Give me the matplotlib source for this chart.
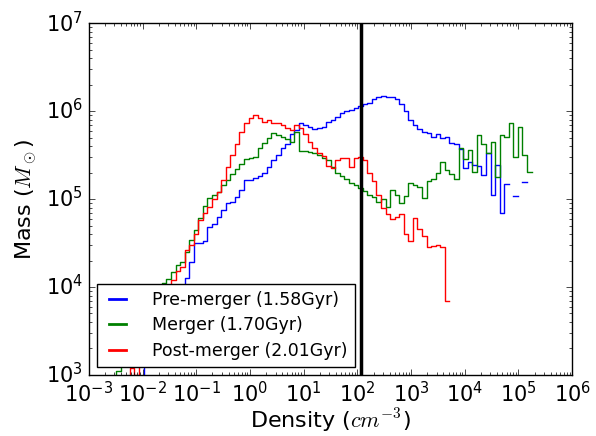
import matplotlib
matplotlib.use('Agg')
import matplotlib.pyplot as plt
import numpy as np

plt.style.use('classic')

# log-spaced bins: left edge of bin k is 10**(-3 + k*bin_dex)
bin_dex = 0.085
nan = np.nan

# log10(mass / Msun) per bin
pre_start = 11
pre_merger = [2.8, 3.1, 3.25, 3.35, 3.45, 3.55, 3.65, 3.8, 3.85, 3.95,
              4.1, 4.28, 4.5, 4.5, 4.52, 4.68, 4.72, 4.80, 4.88, 4.95,
              4.97, 5.02, 5.10, 5.22, 5.22, 5.24, 5.26, 5.30, 5.36, 5.44,
              5.50, 5.58, 5.62, 5.74, 5.78, 5.86, 5.84, 5.82, 5.80, 5.81,
              5.82, 5.88, 5.90, 5.93, 5.98, 6.00, 6.01, 6.04, 6.06, 6.08,
              6.09, 6.14, 6.16, 6.17, 6.16, 6.16, 6.14, 6.08, 6.00, 5.90,
              5.84, 5.80, 5.76, 5.75, 5.70, 5.74, 5.69, 5.71, 5.64, 5.63,
              5.57, 5.35, 5.42, 5.39, 5.37, 5.27, 5.52, 5.05, 5.39, 4.84,
              5.17, nan, 5.03, nan, 5.19]

mer_start = 5
merger = [2.9, 3.05, 3.1, 3.25, 3.35, 3.5, 3.6, 3.7, 3.8, 3.9,
          3.95, 4.05, 4.09, 4.17, 4.25, 4.28, 4.40, 4.53, 4.65, 4.78,
          4.92, 5.01, 5.05, 5.08, 5.16, 5.22, 5.28, 5.34, 5.40, 5.45,
          5.47, 5.48, 5.58, 5.64, 5.69, 5.75, 5.73, 5.70, 5.68, 5.65,
          5.76, 5.55, 5.55, 5.53, 5.52, 5.50, 5.47, 5.44, 5.36, 5.30,
          5.26, 5.23, 5.18, 5.16, 5.12, 5.09, 5.05, 5.02, 4.97, 5.00,
          4.91, 5.10, 5.05, 4.95, 5.03, 5.18, 5.16, 5.14, 5.01, 5.20,
          5.23, 5.30, 5.42, 5.33, 5.28, 5.23, 5.58, 5.46, 5.56, 5.31,
          5.73, 5.62, 5.52, 5.65, 5.25, 5.73, 5.70, 5.86, 5.48, 5.82,
          5.50, 5.31]

post_start = 8
post_merger = [2.85, 3.08, 3.0, 3.25, 3.4, 3.5, 3.62, 3.75, 3.85, 3.98,
               4.08, 4.18, 4.23, 4.42, 4.48, 4.60, 4.76, 4.84, 4.91, 5.00,
               5.08, 5.22, 5.36, 5.50, 5.62, 5.76, 5.86, 5.92, 5.95, 5.92,
               5.88, 5.90, 5.87, 5.86, 5.84, 5.81, 5.78, 5.84, 5.81, 5.74,
               5.65, 5.58, 5.52, 5.49, 5.37, 5.35, 5.44, 5.47, 5.47, 5.36,
               5.47, 5.48, 5.44, 5.30, 5.20, 5.05, 4.90, 4.83, 4.77, 4.80,
               4.83, 4.60, 4.52, 4.78, 4.66, 4.58, 4.45, 4.47, 4.48, 4.45,
               3.84]

labels = ['Pre-merger (1.58Gyr)', 'Merger (1.70Gyr)', 'Post-merger (2.01Gyr)']
colors = ['b', 'g', 'r']
threshold = 115.0  # density cut, cm^-3

fig = plt.figure(figsize=(5.96, 4.36), dpi=100, facecolor='white')
ax = fig.add_axes([0.149, 0.14, 0.811, 0.807])

series = [(pre_start, pre_merger), (mer_start, merger), (post_start, post_merger)]
for (start, vals), lab, c in zip(series, labels, colors):
    vals = np.array(vals)
    k = np.arange(start, start + len(vals) + 1)
    edges = 10 ** (-3 + k * bin_dex)
    mass = 10 ** np.append(vals, vals[-1])
    ax.plot(edges, mass, drawstyle='steps-post', color=c, lw=1.0, label=lab)

ax.axvline(threshold, color='k', lw=2.5)

ax.set_xscale('log')
ax.set_yscale('log')
ax.set_xlim(1e-3, 1e6)
ax.set_ylim(1e3, 1e7)
ax.tick_params(labelsize=15)
ax.set_xlabel(r'Density ($cm^{-3}$)', fontsize=16, labelpad=1)
ax.set_ylabel(r'Mass ($M_\odot$)', fontsize=16)
leg = ax.legend(loc='lower left', fontsize=12.5, handlelength=1.6,
                handletextpad=1.2, borderaxespad=0.45, labelspacing=0.45)
for h in leg.get_lines():
    h.set_linewidth(2.0)

fig.savefig('out.png', dpi=100, facecolor='white')
